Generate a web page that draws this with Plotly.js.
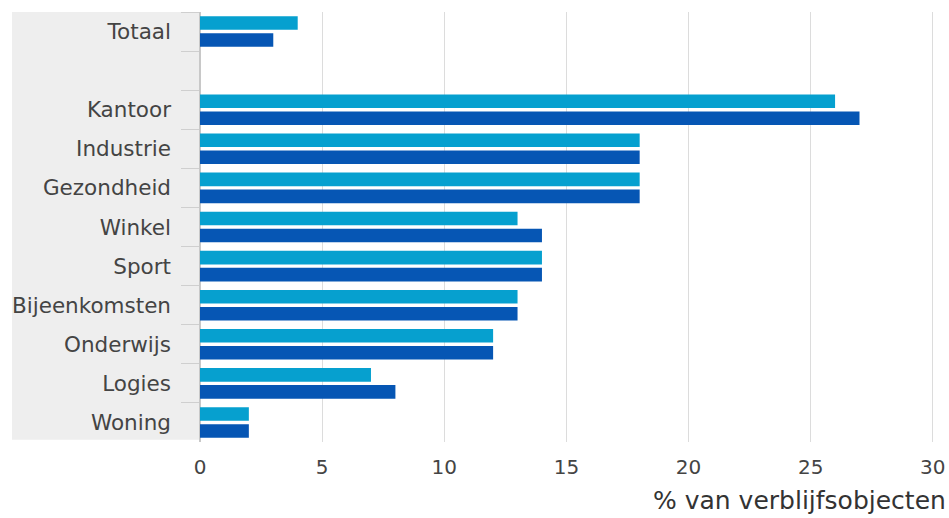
<!DOCTYPE html>
<html><head><meta charset="utf-8">
<script src="https://cdn.plot.ly/plotly-3.0.1.min.js"></script>
<style>html,body{margin:0;padding:0;background:#fff;}#chart{width:949px;height:518px;}</style>
</head><body><div id="chart"></div>
<script>
var categories = ["Totaal", " ", "Kantoor", "Industrie", "Gezondheid", "Winkel", "Sport", "Bijeenkomsten", "Onderwijs", "Logies", "Woning"];
var seriesA = [4, null, 26, 18, 18, 13, 14, 13, 12, 7, 2];
var seriesB = [3, null, 27, 18, 18, 14, 14, 13, 12, 8, 2];
var xTicks = [0, 5, 10, 15, 20, 25, 30];
var xTitle = "% van verblijfsobjecten";

var W = 949, H = 518;
var mL = 200, mR = 15, mT = 12, mB = 76;
var plotW = W - mL - mR;

var font = "DejaVu Sans, Verdana, sans-serif";
var traces = [
  {type: "bar", orientation: "h", name: "A", y: categories, x: seriesA, marker: {color: "#06a0cf"}, hoverinfo: "x+y"},
  {type: "bar", orientation: "h", name: "B", y: categories, x: seriesB, marker: {color: "#0656b4"}, hoverinfo: "x+y"}
];
var layout = {
  width: W, height: H,
  margin: {l: mL, r: mR, t: mT, b: mB},
  paper_bgcolor: "#fff", plot_bgcolor: "#fff",
  showlegend: false,
  barmode: "group", bargap: 0.13, bargroupgap: 0.2,
  font: {family: font, color: "#444"},
  xaxis: {
    range: [0, 30.05], tickvals: xTicks, ticktext: xTicks.map(String),
    showgrid: true, gridcolor: "#dcdcdc", gridwidth: 1,
    zeroline: true, zerolinecolor: "#c8c8c8", zerolinewidth: 2,
    ticks: "", ticklabelstandoff: 11,
    tickfont: {size: 20, color: "#444", family: font},
    fixedrange: true
  },
  yaxis: {
    type: "category", categoryorder: "array", categoryarray: categories,
    range: [10.5, -0.5],
    tickson: "boundaries", ticks: "outside", ticklen: 18, tickcolor: "#cfcfcf", tickwidth: 1,
    ticklabelstandoff: 28,
    tickfont: {size: 21.5, color: "#444", family: font},
    showgrid: false, zeroline: false, showline: false,
    fixedrange: true
  },
  shapes: [{
    type: "rect", xref: "paper", yref: "paper", layer: "below",
    x0: (12 - mL) / plotW, x1: 0, y0: 0.005, y1: 1,
    fillcolor: "#eeeeee", line: {width: 0}
  }],
  annotations: [{
    xref: "paper", yref: "paper", x: 1 + 14 / plotW, y: 0, xanchor: "right", yanchor: "top",
    yshift: -42, showarrow: false, text: xTitle,
    font: {size: 25, color: "#333", family: font}
  }]
};
Plotly.newPlot("chart", traces, layout, {displayModeBar: false, staticPlot: true});
</script></body></html>
